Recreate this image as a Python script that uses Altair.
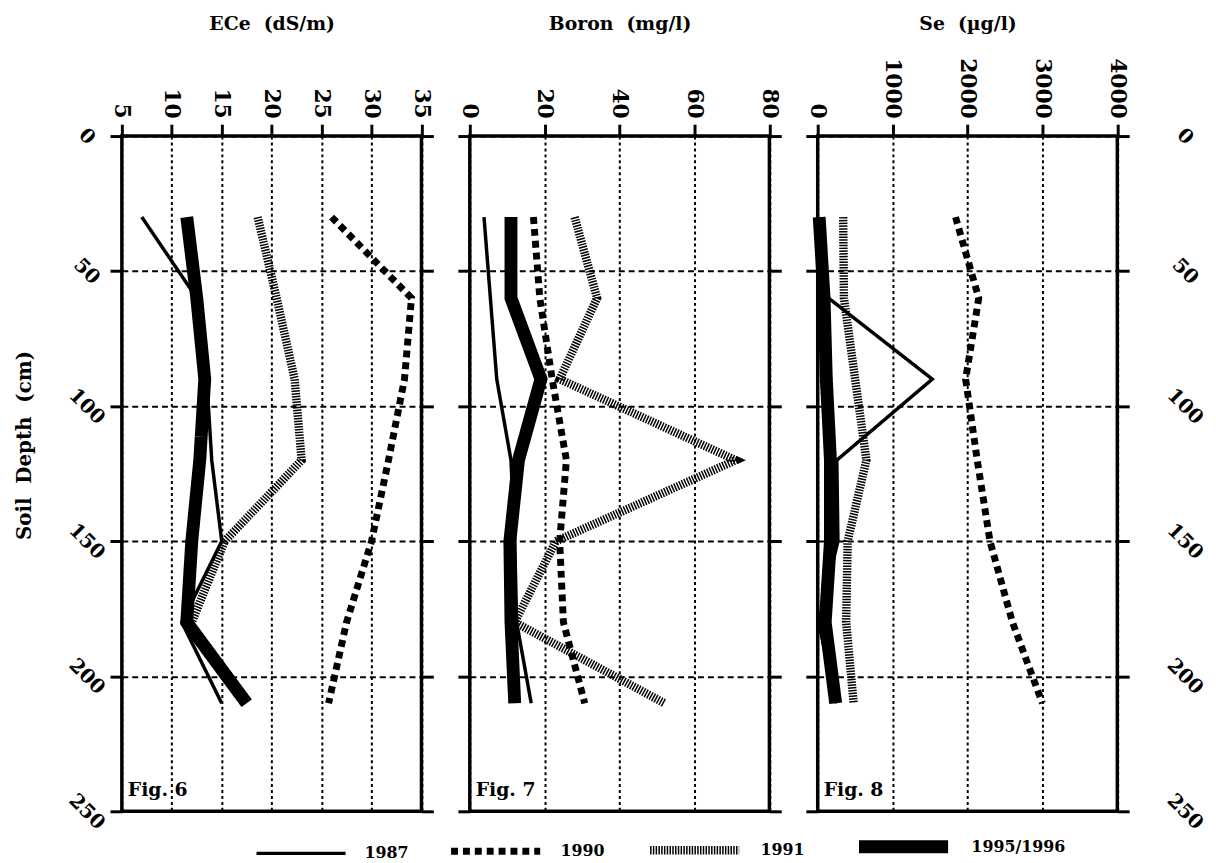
import altair as alt
import pandas as pd

depths = [30, 60, 90, 120, 150, 180, 210]
years = ["1987", "1990", "1991", "1995/1996"]

# ECe (dS/m)
ece_1987 = [7, 12.5, 13.5, 14, 15, 11, 15]
ece_1990 = [26, 34, 33.3, 31.7, 30, 27.5, 25.7]
ece_1991 = [18.6, 20.5, 22.3, 23, 15.3, 12]
ece_1995 = [11.5, 12.5, 13.3, 12.8, 12, 11.5, 17.5]

# Boron (mg/l)
boron_1987 = [3.8, 5.5, 7.2, 11, 12, 12.5, 16.4]
boron_1990 = [17, 18.7, 22, 25.8, 24, 25, 30.7]
boron_1991 = [28, 34, 24, 71, 23, 12, 52]
boron_1995 = [11, 11, 19, 13, 10.7, 11, 12]

# Se (ug/l)
se_1987 = [30, 145, 1530, 255, 270, 10, 250]
se_1990 = [1840, 2150, 1975, 2130, 2300, 2600, 3000]
se_1991 = [340, 350, 500, 650, 400, 380, 480]
se_1995 = [20, 85, 115, 170, 170, 100, 240]

ece_ticks = [5, 10, 15, 20, 25, 30, 35]
boron_ticks = [0, 20, 40, 60, 80]
se_ticks = [0, 1000, 2000, 3000, 4000]
depth_ticks = [0, 50, 100, 150, 200, 250]

NB = "\u00a0"
titles = ["ECe" + NB * 2 + "(dS/m)", "Boron" + NB * 2 + "(mg/l)", "Se" + NB * 2 + "(\u00b5g/l)"]
figs = ["Fig. 6", "Fig. 7", "Fig. 8"]
depth_title = "Soil" + NB * 2 + "Depth" + NB * 2 + "(cm)"

FONT = "DejaVu Serif"


def frame(series):
    rows = []
    for yr, vals in zip(years, series):
        for d, v in zip(depths, vals):
            rows.append({"year": yr, "depth": d, "value": v})
    return pd.DataFrame(rows)


dash_scale = alt.Scale(type="ordinal", domain=years,
                       range=[[1, 0], [7, 5], [1.5, 1.3], [1, 0]])
width_scale = alt.Scale(type="ordinal", domain=years, range=[3.5, 7, 8.5, 13])
leg = alt.Legend(title=None, orient="none", direction="horizontal",
                 legendX=134, legendY=666, symbolType="stroke", symbolSize=8100,
                 symbolStrokeColor="black", labelFont=FONT, labelFontSize=16,
                 labelFontWeight="bold", labelColor="black", labelOffset=17,
                 columnPadding=28)


def panel(df, ticks, title, fig, first, last):
    ydom = alt.Scale(domain=[0, 250], reverse=True, nice=False, zero=False)
    left_axis = alt.Axis(
        orient="left", values=depth_ticks, labels=first,
        title=depth_title if first else None,
        labelAngle=45, labelAlign="center", labelBaseline="middle",
        labelPadding=24, labelFont=FONT, labelFontSize=20, labelFontWeight="bold",
        labelColor="black", tickSize=12, tickWidth=3, tickColor="black",
        domain=False, grid=True, gridDash=[6, 4], gridWidth=2, gridColor="black",
        titleFont=FONT, titleFontSize=20, titleFontWeight="bold", titleColor="black",
        titleAngle=-90, titleX=-98, titleY=312, titleAlign="center",
        titleBaseline="middle",
    )
    right_axis = alt.Axis(
        orient="right", values=depth_ticks, labels=last, title=None,
        labelAngle=45, labelAlign="center", labelBaseline="middle",
        labelPadding=56, labelFont=FONT, labelFontSize=20, labelFontWeight="bold",
        labelColor="black", tickSize=12, tickWidth=3, tickColor="black",
        domain=False, grid=False,
    )
    lines = alt.Chart(df).mark_line(color="black", strokeCap="butt").encode(
        x=alt.X("value:Q",
                scale=alt.Scale(domain=[ticks[0], ticks[-1]], nice=False, zero=False),
                axis=alt.Axis(orient="top", values=ticks, format="d", title=title,
                              labelAngle=90, labelAlign="right", labelBaseline="middle",
                              labelPadding=6, labelFont=FONT, labelFontSize=22,
                              labelFontWeight="bold", labelColor="black",
                              tickSize=12, tickWidth=3, tickColor="black",
                              domain=False, grid=True, gridDash=[3, 3], gridWidth=2,
                              gridColor="black",
                              titleFont=FONT, titleFontSize=19, titleFontWeight="bold",
                              titleColor="black", titleY=-108,
                              titleBaseline="alphabetic")),
        y=alt.Y("depth:Q", scale=ydom, axis=left_axis),
        strokeDash=alt.StrokeDash("year:O", scale=dash_scale, legend=leg),
        strokeWidth=alt.StrokeWidth("year:O", scale=width_scale, legend=leg),
        order=alt.Order("depth:Q"),
    )
    ticks_df = pd.DataFrame({"depth": depth_ticks})
    right = alt.Chart(ticks_df).mark_tick(opacity=0).encode(
        y=alt.Y("depth:Q", scale=ydom, axis=right_axis),
    )
    label = alt.Chart(pd.DataFrame({"fig": [fig]})).mark_text(
        align="left", baseline="middle", font=FONT, fontSize=19,
        fontWeight="bold", color="black",
    ).encode(text="fig:N", x=alt.value(6), y=alt.value(661))
    return alt.layer(lines, label, right).resolve_scale(y="independent").properties(
        width=302.6, height=682
    )


p1 = panel(frame([ece_1987, ece_1990, ece_1991, ece_1995]), ece_ticks,
           titles[0], figs[0], True, False)
p2 = panel(frame([boron_1987, boron_1990, boron_1991, boron_1995]), boron_ticks,
           titles[1], figs[1], False, False)
p3 = panel(frame([se_1987, se_1990, se_1991, se_1995]), se_ticks,
           titles[2], figs[2], False, True)

chart = alt.hconcat(p1, p2, p3, spacing=48.4, bounds="flush").resolve_scale(
    strokeDash="shared", strokeWidth="shared"
).properties(
    padding={"left": 5, "top": 0, "right": 0, "bottom": 0}
).configure(
    background="white",
    view=alt.ViewConfig(stroke="black", strokeWidth=3.5),
)

chart.save("out.html", embed_options={"renderer": "svg", "actions": False})
